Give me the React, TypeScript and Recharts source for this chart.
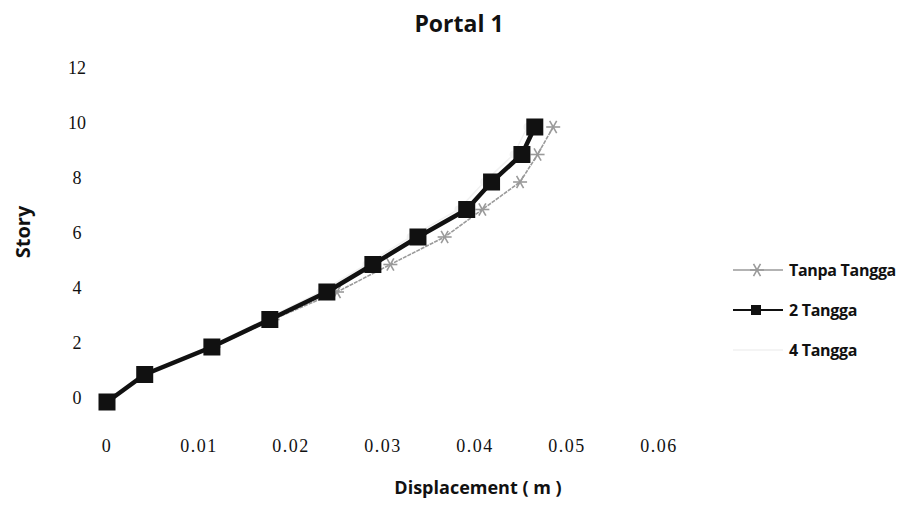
import React from "react";
import { ScatterChart, Scatter, XAxis, YAxis } from "recharts";

// story levels (y) and displacement per model (x, metres)
const stories = [0, 1, 2, 3, 4, 5, 6, 7, 8, 9, 10];
const tanpaTangga = [0, 0.0042, 0.0116, 0.018, 0.025, 0.0308, 0.0367, 0.0408, 0.0449, 0.0468, 0.0485];
const duaTangga = [0, 0.0041, 0.0114, 0.0177, 0.0239, 0.0289, 0.0338, 0.0391, 0.0418, 0.0451, 0.0465];
const empatTangga = [0, 0.004, 0.011, 0.0172, 0.0232, 0.0282, 0.033, 0.0382, 0.041, 0.0442, 0.0457];

const xTicks = [0, 0.01, 0.02, 0.03, 0.04, 0.05, 0.06];
const yTicks = [0, 2, 4, 6, 8, 10, 12];

const toPoints = (xs: number[]) => xs.map((x, i) => ({ x, y: stories[i] }));

const TANPA = "#9a9a9a";
const DUA = "#111111";
const EMPAT = "#f1f1f1";
const bold = "'Open Sans', sans-serif";
const serif = "'Liberation Serif', 'DejaVu Serif', serif";

const Square = (props: any) => {
  const { cx, cy } = props;
  if (cx == null || cy == null) return null;
  return <rect x={cx - 8.5} y={cy - 8.5} width={17} height={17} fill={DUA} />;
};

const Asterisk = (props: any) => {
  const { cx, cy } = props;
  if (cx == null || cy == null) return null;
  const r = 7;
  return (
    <g stroke={TANPA} strokeWidth={1.6}>
      <line x1={cx - r} y1={cy} x2={cx + r} y2={cy} />
      <line x1={cx - r * 0.5} y1={cy - r * 0.87} x2={cx + r * 0.5} y2={cy + r * 0.87} />
      <line x1={cx - r * 0.5} y1={cy + r * 0.87} x2={cx + r * 0.5} y2={cy - r * 0.87} />
    </g>
  );
};

const Dot = (props: any) => {
  const { cx, cy } = props;
  if (cx == null || cy == null) return null;
  return <circle cx={cx} cy={cy} r={4} fill={EMPAT} />;
};

const XTick = ({ x, payload }: any) => (
  <text x={x} y={452} textAnchor="middle" fontFamily={serif} fontSize={18} letterSpacing={1.5} fill="#111">
    {payload.value}
  </text>
);

const YTick = ({ y, payload }: any) => (
  <text x={77} y={y + 2} textAnchor="middle" fontFamily={serif} fontSize={18} fill="#111">
    {payload.value}
  </text>
);

const legendRows = [
  { name: "Tanpa Tangga", color: TANPA, marker: "star" },
  { name: "2 Tangga", color: DUA, marker: "square" },
  { name: "4 Tangga", color: EMPAT, marker: "dot" },
];

const LegendBox = () => (
  <div style={{ position: "absolute", left: 731, top: 250 }}>
    {legendRows.map((r) => (
      <div key={r.name} style={{ display: "flex", alignItems: "center", height: 40 }}>
        <svg width={56} height={20}>
          <line x1={2} y1={10} x2={52} y2={10} stroke={r.color} strokeWidth={r.marker === "square" ? 2 : 1.3} />
          {r.marker === "square" && <rect x={20} y={5} width={10} height={10} fill={r.color} />}
          {r.marker === "star" && <Asterisk cx={26} cy={10} />}
        </svg>
        <span style={{ fontFamily: bold, fontWeight: 700, fontSize: 16, color: "#111", marginLeft: 2, letterSpacing: -0.3 }}>
          {r.name}
        </span>
      </div>
    ))}
  </div>
);

export default function App() {
  return (
    <div style={{ position: "absolute", left: 0, top: 0, width: 918, height: 524, background: "#fff" }}>
      <ScatterChart width={918} height={524} margin={{ top: 72, right: 259, bottom: 62, left: 47 }}>
        <text x={459} y={32} textAnchor="middle" fontFamily={bold} fontWeight={700} fontSize={23} fill="#111">
          Portal 1
        </text>
        <text x={478} y={494} textAnchor="middle" fontFamily={bold} fontWeight={700} fontSize={18} fill="#111">
          Displacement ( m )
        </text>
        <text
          x={30}
          y={232}
          textAnchor="middle"
          transform="rotate(-90 30 232)"
          fontFamily={bold}
          fontWeight={700}
          fontSize={20}
          fill="#111"
        >
          Story
        </text>
        <XAxis
          type="number"
          dataKey="x"
          domain={[0, 0.06]}
          ticks={xTicks}
          height={60}
          axisLine={false}
          tickLine={false}
          tick={<XTick />}
          interval={0}
        />
        <YAxis
          type="number"
          dataKey="y"
          domain={[0, 12]}
          ticks={yTicks}
          width={60}
          axisLine={false}
          tickLine={false}
          tick={<YTick />}
          interval={0}
        />
        <Scatter
          name="4 Tangga"
          data={toPoints(empatTangga)}
          line={{ stroke: EMPAT, strokeWidth: 1.5 }}
          lineType="joint"
          shape={<Dot />}
          isAnimationActive={false}
        />
        <Scatter
          name="Tanpa Tangga"
          data={toPoints(tanpaTangga)}
          line={{ stroke: TANPA, strokeWidth: 1.6, strokeDasharray: "4 1" }}
          lineType="joint"
          shape={<Asterisk />}
          isAnimationActive={false}
        />
        <Scatter
          name="2 Tangga"
          data={toPoints(duaTangga)}
          line={{ stroke: DUA, strokeWidth: 4.5 }}
          lineType="joint"
          shape={<Square />}
          isAnimationActive={false}
        />
      </ScatterChart>
      <LegendBox />
    </div>
  );
}
